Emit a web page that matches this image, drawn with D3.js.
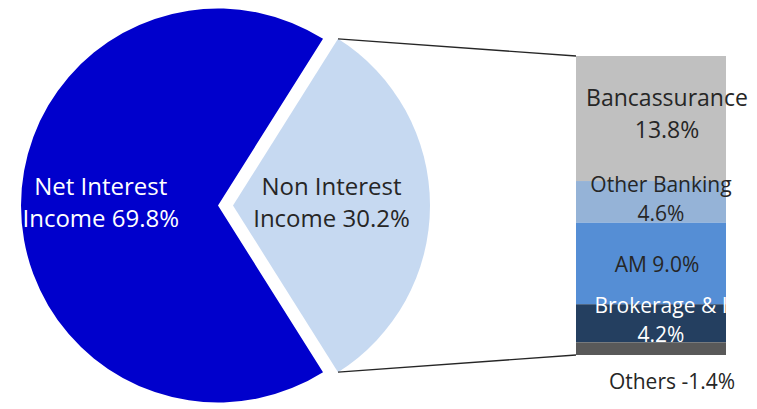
<!DOCTYPE html>
<html>
<head>
<meta charset="utf-8">
<script src="https://cdn.jsdelivr.net/npm/d3@7"></script>
<style>
  body { margin: 0; background: #fff; }
  text { font-family: "Open Sans", "Noto Sans", sans-serif; }
</style>
</head>
<body>
<svg id="chart" width="757" height="409"></svg>
<script>
// pie: main split of income
const pieNames = ["Net Interest", "Non Interest"]
const pieValues = [69.8, 30.2]
const pieColors = ["#0000CC", "#C6D9F1"]

// bar: breakdown of non interest income
const barNames = ["Bancassurance", "Other Banking", "AM", "Brokerage & I", "Others"]
const barValues = [13.8, 4.6, 9.0, 4.2, -1.4]
const barColors = ["#C0C0C0", "#95B3D7", "#558ED5", "#243F60", "#595959"]
const barTextColors = ["#262626", "#262626", "#262626", "#ffffff", "#262626"]

const svg = d3.select("#chart")

const cx = 218, cy = 205.5, radius = 197
const explode = 15

// Excel sizes the "other" slice from the bar total (absolute values)
const otherTotal = d3.sum(barValues, v => Math.abs(v))
const sliceValues = [otherTotal, pieValues[0]]
const otherAngle = 2 * Math.PI * otherTotal / d3.sum(sliceValues)

const pie = d3.pie()
    .sort(null)
    .startAngle(Math.PI / 2 - otherAngle / 2)
    .endAngle(Math.PI / 2 - otherAngle / 2 + 2 * Math.PI)

const arcs = pie(sliceValues)
const arc = d3.arc().innerRadius(0).outerRadius(radius)

// slice index in arcs: 0 = non interest, 1 = net interest
const sliceInfo = [
    {arc: arcs[1], i: 0, dx: 0, labelR: 0.595},
    {arc: arcs[0], i: 1, dx: explode, labelR: 0.5}
]

const gPie = svg.append("g").attr("class", "pie")
gPie.selectAll("path")
    .data(sliceInfo)
    .enter().append("path")
    .attr("d", d => arc(d.arc))
    .attr("fill", d => pieColors[d.i])
    .attr("transform", d => "translate(" + (cx + d.dx) + "," + cy + ")")

// pie labels
const gPieLabels = svg.append("g").attr("class", "pieLabels")
sliceInfo.forEach(d => {
    const mid = (d.arc.startAngle + d.arc.endAngle) / 2
    const lx = cx + d.dx + Math.sin(mid) * radius * d.labelR
    const ly = cy - Math.cos(mid) * radius * d.labelR
    const t = gPieLabels.append("text")
        .attr("text-anchor", "middle")
        .attr("font-size", "24px")
        .attr("fill", d.i === 0 ? "#ffffff" : "#262626")
    t.append("tspan").attr("x", lx).attr("y", ly - 11).text(pieNames[d.i])
    t.append("tspan").attr("x", lx).attr("y", ly + 21.5)
        .text("Income " + pieValues[d.i].toFixed(1) + "%")
})

// stacked bar
const barX0 = 576, barX1 = 726
const y = d3.scaleLinear().domain([0, otherTotal]).range([56, 355])

let acc = 0
const segs = barValues.map((v, i) => {
    const s = {i: i, y0: acc, y1: acc + Math.abs(v)}
    acc += Math.abs(v)
    return s
})

const gBar = svg.append("g").attr("class", "bar")
gBar.selectAll("rect")
    .data(segs)
    .enter().append("rect")
    .attr("x", barX0)
    .attr("width", barX1 - barX0)
    .attr("y", d => y(d.y0))
    .attr("height", d => y(d.y1) - y(d.y0))
    .attr("fill", d => barColors[d.i])

// connector lines from the exploded slice to the bar
const lightArc = arcs[0]
const corner = a => [cx + explode + Math.sin(a) * radius, cy - Math.cos(a) * radius]
const topCorner = corner(lightArc.startAngle)
const botCorner = corner(lightArc.endAngle)
svg.append("g").attr("class", "lines")
    .selectAll("line")
    .data([[topCorner, [barX0, y(0)]], [botCorner, [barX0, y(otherTotal)]]])
    .enter().append("line")
    .attr("x1", d => d[0][0]).attr("y1", d => d[0][1])
    .attr("x2", d => d[1][0]).attr("y2", d => d[1][1])
    .attr("stroke", "#262626")
    .attr("stroke-width", 1.4)

// bar labels
const labelX = (barX0 + barX1) / 2 + 10
const gBarLabels = svg.append("g").attr("class", "barLabels")
segs.forEach(s => {
    const mid = (y(s.y0) + y(s.y1)) / 2
    const pct = barValues[s.i].toFixed(1) + "%"
    const name = barNames[s.i]
    const big = s.i === 0
    const lx = big ? labelX + 6 : labelX
    const t = gBarLabels.append("text")
        .attr("text-anchor", "middle")
        .attr("font-size", big ? "23px" : "21px")
        .attr("fill", barTextColors[s.i])
    if (barValues[s.i] < 0) {
        // negative slice label sits below the bar
        t.append("tspan").attr("x", lx + 11).attr("y", y(otherTotal) + 34)
            .text(name + " " + pct)
    } else if (name.length <= 3) {
        t.append("tspan").attr("x", lx - 4).attr("y", mid + 9)
            .text(name + " " + pct)
    } else {
        t.append("tspan").attr("x", lx).attr("y", mid - (big ? 13 : 10)).text(name)
        t.append("tspan").attr("x", lx).attr("y", mid + 19).text(pct)
    }
})
</script>
</body>
</html>
